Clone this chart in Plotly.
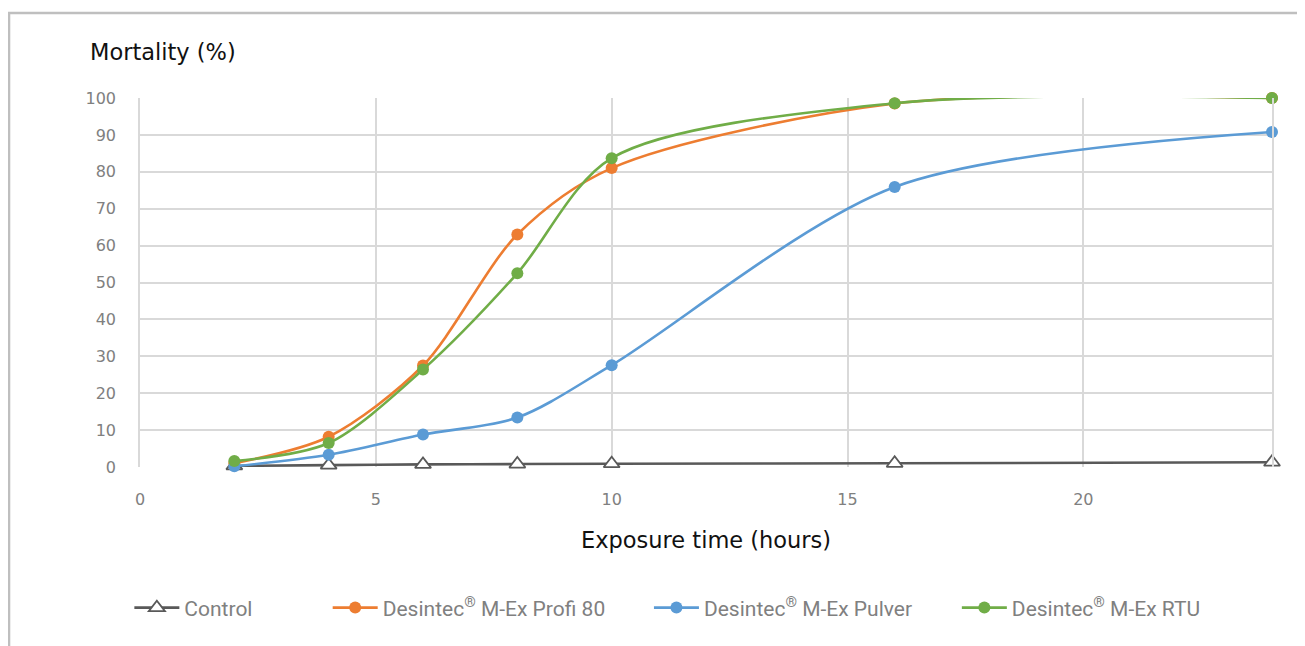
import plotly.graph_objects as go

hours = [2, 4, 6, 8, 10, 16, 24]
control = [0.3, 0.5, 0.7, 0.8, 0.9, 1.0, 1.3]
profi80 = [1.0, 8.2, 27.5, 63.0, 81.0, 98.5, 100.0]
pulver = [0.2, 3.3, 8.8, 13.4, 27.6, 75.9, 90.8]
rtu = [1.6, 6.5, 26.4, 52.5, 83.7, 98.6, 100.0]

names = ["Control", "Desintec<sup>®</sup> M-Ex Profi 80",
         "Desintec<sup>®</sup> M-Ex Pulver", "Desintec<sup>®</sup> M-Ex RTU"]
colors = ["#595959", "#ED7D31", "#5B9BD5", "#70AD47"]
series = [control, profi80, pulver, rtu]
legend_ids = ["legend", "legend2", "legend3", "legend4"]
legend_x = [-0.0094, 0.1658, 0.4496, 0.7216]

fig = go.Figure()
for i, (nm, col, vals) in enumerate(zip(names, colors, series)):
    if i == 0:
        marker = dict(symbol="triangle-up", size=14, color="white",
                      line=dict(color=col, width=1.8))
    else:
        marker = dict(symbol="circle", size=12, color=col)
    fig.add_trace(go.Scatter(
        x=hours, y=vals, name=nm, mode="lines+markers", cliponaxis=False,
        line=dict(color=col, width=2.6, shape="spline", smoothing=0.85),
        marker=marker, legend=legend_ids[i]))

grid = "#D9D9D9"
tickfont = dict(family="DejaVu Sans, sans-serif", size=16, color="#808080")
fig.update_layout(
    width=1297, height=638,
    margin=dict(l=132, r=33, t=90, b=179),
    paper_bgcolor="white", plot_bgcolor="white",
    showlegend=True,
    xaxis=dict(range=[0, 24], tickvals=[0, 5, 10, 15, 20], showgrid=True,
               gridcolor=grid, gridwidth=1.5, zeroline=False, showline=False,
               ticks="outside", ticklen=18, tickcolor="rgba(0,0,0,0)",
               tickfont=tickfont),
    yaxis=dict(range=[0, 100], dtick=10, showgrid=True, gridcolor=grid,
               gridwidth=1.5, zeroline=False, showline=True, mirror=True,
               linecolor=grid, linewidth=1.5,
               ticks="outside", ticklen=19, tickcolor="rgba(0,0,0,0)",
               tickfont=tickfont),
)
for lid, lx in zip(legend_ids, legend_x):
    fig.update_layout({lid: dict(
        x=lx, y=-0.382, xanchor="left", yanchor="middle", orientation="h",
        itemwidth=45, bgcolor="rgba(0,0,0,0)",
        font=dict(family="Roboto, sans-serif", size=21, color="#808080"))})

titlefont = dict(family="DejaVu Sans, sans-serif", size=22.5, color="#111111")
fig.add_annotation(text="Mortality (%)", xref="paper", yref="paper",
                   x=-0.0459, y=1.1247, xanchor="left", yanchor="middle",
                   showarrow=False, font=titlefont)
fig.add_annotation(text="Exposure time (hours)", xref="paper", yref="paper",
                   x=0.5, y=-0.198, xanchor="center", yanchor="middle",
                   showarrow=False, font=titlefont)
fig.add_shape(type="rect", xref="paper", yref="paper",
              x0=-0.1157, x1=1.2, y0=-1.0, y1=1.2304,
              line=dict(color="#BFBFBF", width=2.5), fillcolor="rgba(0,0,0,0)",
              layer="below")

fig.write_html("out.html")
